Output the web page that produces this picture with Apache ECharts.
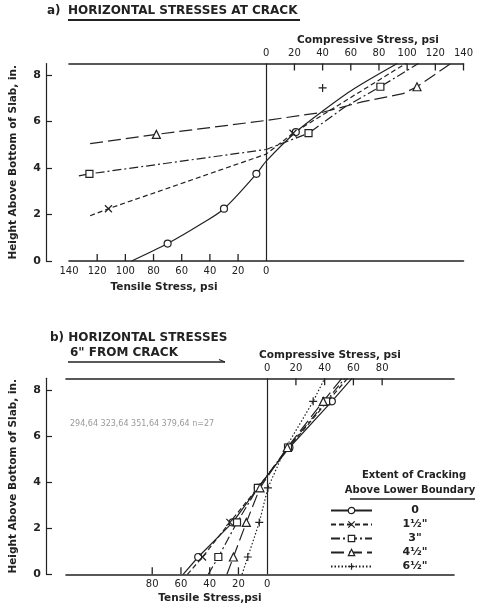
<!DOCTYPE html>
<html>
<head>
<meta charset="utf-8">
<title>Horizontal stresses in slab</title>
<script src="https://cdn.jsdelivr.net/npm/echarts@6/dist/echarts.min.js"></script>
<style>
    html, body { margin: 0; padding: 0; background: #fff; }
    #stress_chart { width: 477px; height: 611px; }
</style>
</head>
<body>
<div id="stress_chart"></div>
<script>

// Data
// ------------------------------
// points are [stress psi (compression +, tension -), height above bottom in., gauge reading 1/0]

// Extent of cracking above lower boundary
var crackLevels = ['0', '1\u00bd"', '3"', '4\u00bd"', '6\u00bd"'];

// a) horizontal stresses at crack
var atCrack0 = [[-95.5, 0, 0], [-70, 0.75, 1], [-46, 1.6, 0], [-30, 2.25, 1], [-7, 3.75, 1], [0, 4.3, 0], [21, 5.55, 1], [40, 6.45, 0], [62, 7.4, 0], [93, 8.5, 0]];
var atCrack1 = [[-125, 1.95, 0], [-112, 2.25, 1], [0, 4.6, 0], [19, 5.5, 1], [99, 8.5, 0]];
var atCrack2 = [[-133, 3.66, 0], [-125.5, 3.75, 1], [0, 4.8, 0], [30, 5.5, 1], [55, 6.6, 0], [81, 7.5, 1], [108, 8.5, 0]];
var atCrack3 = [[-125, 5.05, 0], [-78, 5.45, 1], [0, 6.05, 0], [40, 6.4, 0], [68, 6.85, 0], [97, 7.2, 0], [107, 7.5, 1], [131, 8.5, 0]];
var atCrack4 = [[40, 7.45, 1]];

// b) horizontal stresses 6" from crack
var fromCrack0 = [[-58.5, 0, 0], [-48, 0.75, 1], [-24, 2.25, 1], [-6.5, 3.75, 1], [15.5, 5.5, 1], [45, 7.5, 1], [59, 8.5, 0]];
var fromCrack1 = [[-55.5, 0, 0], [-45, 0.75, 1], [-26, 2.25, 1], [-6.5, 3.75, 1], [15, 5.5, 1], [42, 7.5, 1], [56, 8.5, 0]];
var fromCrack2 = [[-41, 0, 0], [-34, 0.75, 1], [-21, 2.25, 1], [-6.5, 3.75, 1], [14.5, 5.5, 1], [41, 7.5, 1], [54, 8.5, 0]];
var fromCrack3 = [[-28, 0, 0], [-23.5, 0.75, 1], [-14.5, 2.25, 1], [-5, 3.75, 1], [14, 5.5, 1], [39, 7.5, 1], [52, 8.5, 0]];
var fromCrack4 = [[-17.5, 0, 0], [-13.5, 0.75, 1], [-5.5, 2.25, 1], [0.5, 3.75, 1], [13, 5.5, 0], [32, 7.5, 1], [40, 8.5, 0]];

// Tick labels
var heightTicks = [0, 2, 4, 6, 8];
var compTicksA = [0, 20, 40, 60, 80, 100, 120, 140];
var tensTicksA = [-140, -120, -100, -80, -60, -40, -20, 0];
var compTicksB = [0, 20, 40, 60, 80];
var tensTicksB = [-80, -60, -40, -20, 0];

// Tick marks on the stress axes
var compMarksA = [20, 40, 60, 80, 100, 120, 140];
var tensMarksA = [-120, -100, -80, -60, -40, -20];
var compMarksB = [20, 40, 60, 80];
var tensMarksB = [-80, -60, -40, -20];


// Setup module
// ------------------------------

var SlabStressChart = function() {

    var _stressChart = function() {
        if (typeof echarts == 'undefined') {
            console.warn('Warning - echarts.min.js is not loaded.');
            return;
        }

        var chart_element = document.getElementById('stress_chart');
        if (!chart_element) {
            return;
        }

        var stress_chart = echarts.init(chart_element, null, { renderer: 'canvas' });

        // Styles
        var ink = '#222',
            font = 'DejaVu Sans',
            yTop = 8.5,
            lineTypes = ['solid', [5, 3], [9, 3, 2, 3], [13, 5], [1.5, 2]],
            symbols = ['circle', 'path://M0,0L10,10M10,0L0,10', 'rect', 'triangle', 'path://M5,0L5,10M0,5L10,5'],
            symbolSizes = [7, 7, 7, 8, 8];

        // One curve
        var makeSeries = function(name, points, level, panel) {
            return {
                name: name,
                type: 'line',
                xAxisIndex: panel * 2,
                yAxisIndex: panel,
                smooth: level === 0 && panel === 0 ? 0.3 : false,
                symbol: symbols[level],
                symbolSize: symbolSizes[level],
                showAllSymbol: true,
                lineStyle: { color: ink, width: 1.2, type: lineTypes[level] },
                itemStyle: { color: '#fff', borderColor: ink, borderWidth: 1.2 },
                emphasis: { disabled: true },
                silent: true,
                z: 3,
                data: points.map(function(p) {
                    return { value: [p[0], p[1]], symbol: p[2] ? symbols[level] : 'none' };
                })
            };
        };

        // Short tick marks sitting on the top / bottom lines, pointing inwards
        var tickSeries = function(name, values, atTop, panel) {
            return {
                name: name,
                type: 'custom',
                xAxisIndex: panel * 2,
                yAxisIndex: panel,
                silent: true,
                clip: false,
                z: 4,
                renderItem: function(params, api) {
                    var p = api.coord([api.value(0), api.value(1)]);
                    var dy = atTop ? 7 : -7;
                    return {
                        type: 'line',
                        shape: { x1: p[0], y1: p[1], x2: p[0], y2: p[1] + dy },
                        style: { stroke: ink, lineWidth: 1.3 }
                    };
                },
                encode: { x: 0, y: 1 },
                data: values.map(function(v) { return [v, atTop ? yTop : 0]; })
            };
        };

        // Zero stress line
        var zeroLine = function() {
            return {
                silent: true,
                symbol: 'none',
                label: { show: false },
                lineStyle: { color: ink, width: 1.2, type: 'solid' },
                data: [{ xAxis: 0 }]
            };
        };

        var series = [];
        series.push(tickSeries('ticks b top', compMarksB, true, 1));
        series.push(tickSeries('ticks b bottom', tensMarksB, false, 1));
        [atCrack0, atCrack1, atCrack2, atCrack3, atCrack4].forEach(function(pts, i) {
            var s = makeSeries('a ' + crackLevels[i], pts, i, 0);
            if (i === 0) {
                s.markLine = zeroLine();
            }
            series.push(s);
        });
        [fromCrack0, fromCrack1, fromCrack2, fromCrack3, fromCrack4].forEach(function(pts, i) {
            var s = makeSeries(crackLevels[i], pts, i, 1);
            if (i === 0) {
                s.markLine = zeroLine();
            }
            series.push(s);
        });

        // Axis helpers
        var labelStyle = { color: ink, fontFamily: font, fontSize: 10 };
        var stressAxis = function(grid, pos, min, max, labels) {
            return {
                type: 'value',
                gridIndex: grid,
                position: pos,
                min: min,
                max: max,
                interval: 20,
                splitLine: { show: false },
                axisLine: { onZero: false, lineStyle: { color: ink, width: 1.6 } },
                axisTick: { show: false },
                axisLabel: Object.assign({
                    margin: 5,
                    customValues: labels,
                    formatter: function(v) { return Math.abs(v); }
                }, labelStyle)
            };
        };
        var heightAxis = function(grid, offset) {
            return {
                type: 'value',
                gridIndex: grid,
                position: 'left',
                offset: offset,
                min: 0,
                max: yTop,
                interval: 2,
                name: 'Height Above Bottom of Slab, in.',
                nameLocation: 'middle',
                nameGap: 27,
                nameTextStyle: { color: ink, fontFamily: font, fontSize: 10.5, fontWeight: 'bold' },
                splitLine: { show: false },
                axisLine: { onZero: false, lineStyle: { color: ink, width: 1.2 } },
                axisTick: { inside: true, length: 6, customValues: heightTicks, lineStyle: { color: ink, width: 1.2 } },
                axisLabel: Object.assign({ margin: 5, customValues: heightTicks }, labelStyle, { fontSize: 11, fontWeight: 'bold' })
            };
        };

        // Free texts
        var text = function(x, y, str, align, size) {
            return {
                type: 'text',
                x: x,
                y: y,
                style: {
                    text: str,
                    fill: ink,
                    font: 'bold ' + (size || 10.5) + 'px "' + font + '"',
                    textAlign: align || 'left',
                    textVerticalAlign: 'middle'
                }
            };
        };
        var rule = function(x1, y1, x2, y2, w) {
            return {
                type: 'line',
                shape: { x1: x1, y1: y1, x2: x2, y2: y2 },
                style: { stroke: ink, lineWidth: w || 1.2 }
            };
        };

        var graphics = [
            text(47, 11, 'a)', 'left', 12),
            text(68, 11, 'HORIZONTAL STRESSES AT CRACK', 'left', 12),
            rule(68, 20, 300, 20, 2.2),
            text(368, 40, 'Compressive Stress, psi', 'center'),
            text(164, 287, 'Tensile Stress, psi', 'center'),

            text(50, 338, 'b) HORIZONTAL STRESSES', 'left', 12),
            text(70, 353, '6" FROM CRACK', 'left', 12),
            rule(68, 362, 225, 362, 1.4),
            rule(219, 359.5, 225, 362, 1.2),
            text(330, 355, 'Compressive Stress, psi', 'center'),
            text(210, 598, 'Tensile Stress,psi', 'center'),

            text(414, 475, 'Extent of Cracking', 'center', 10),
            text(410, 490, 'Above Lower Boundary', 'center', 10),
            rule(350, 499, 475, 499, 1.4)
        ];

        stress_chart.setOption({
            animation: false,
            backgroundColor: '#fff',
            textStyle: { fontFamily: font, color: ink },

            grid: [
                { left: 62.5, top: 63.5, width: 401, height: 197.5 },
                { left: 60, top: 378.3, width: 394, height: 196 }
            ],

            xAxis: [
                stressAxis(0, 'bottom', -140, 140, tensTicksA),
                stressAxis(0, 'top', -140, 140, compTicksA),
                stressAxis(1, 'bottom', -140, 130, tensTicksB),
                stressAxis(1, 'top', -140, 130, compTicksB)
            ],

            yAxis: [
                heightAxis(0, 23),
                heightAxis(1, 20)
            ],

            legend: {
                data: crackLevels,
                orient: 'vertical',
                left: 325,
                top: 500,
                itemWidth: 41,
                itemHeight: 8,
                itemGap: 3,
                selectedMode: false,
                itemStyle: { borderWidth: 1.2 },
                formatter: function(name) { return '{t|' + name + '}'; },
                textStyle: {
                    color: ink,
                    fontFamily: font,
                    fontSize: 11,
                    rich: { t: { width: 76, align: 'center', fontSize: 11, fontWeight: 'bold', lineHeight: 12, fontFamily: font } }
                }
            },

            graphic: graphics,

            series: series
        });

        // Tick marks of panel a, placed through the panel's own axes
        var debug = [];
        var addTicks = function(values, atTop) {
            values.forEach(function(v) {
                var y = atTop ? yTop : 0;
                var px = stress_chart.convertToPixel({ xAxisIndex: 0 }, v);
                var py = stress_chart.convertToPixel({ yAxisIndex: 0 }, y);
                debug.push(Math.round(px) + ',' + Math.round(py));
                if (isFinite(px) && isFinite(py)) {
                    graphics.push({
                        type: 'line',
                        z: 100,
                        shape: { x1: px, y1: py, x2: px, y2: py + (atTop ? 7 : -7) },
                        style: { stroke: ink, lineWidth: 1.3 }
                    });
                }
            });
        };
        addTicks(compMarksA, true);
        addTicks(tensMarksA, false);
        graphics.push({
            type: 'text', x: 70, y: 420, z: 100,
            style: { text: debug.slice(0, 4).join(' ') + ' n=' + graphics.length, fill: '#999', font: '8px "DejaVu Sans"' }
        });
        stress_chart.setOption({ graphic: graphics });

        window.addEventListener('resize', function() {
            stress_chart.resize();
        });
    };

    return {
        init: function() {
            _stressChart();
        }
    }
}();


// Initialize module
// ------------------------------

document.addEventListener('DOMContentLoaded', function() {
    SlabStressChart.init();
});
</script>
</body>
</html>
